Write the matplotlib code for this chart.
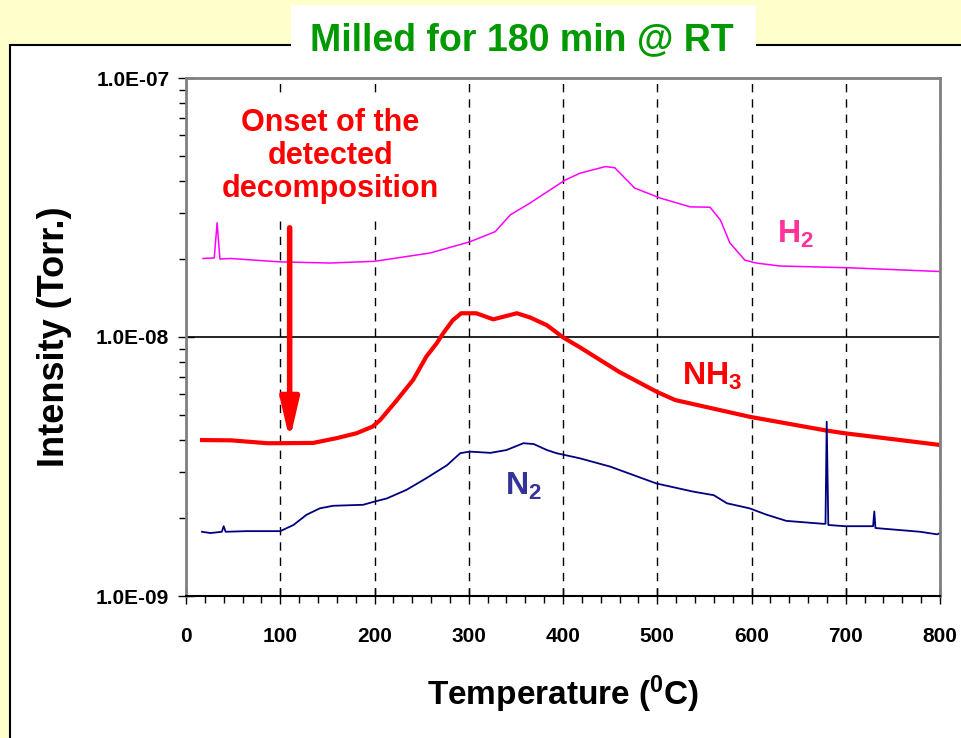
import matplotlib
matplotlib.use("Agg")
import matplotlib.pyplot as plt
from matplotlib.patches import Rectangle
from matplotlib.ticker import MultipleLocator, FuncFormatter, NullFormatter, LogLocator

plt.rcParams['font.family'] = ['Liberation Sans', 'DejaVu Sans']
plt.rcParams['font.weight'] = 'bold'
plt.rcParams['mathtext.fontset'] = 'custom'
plt.rcParams['mathtext.rm'] = 'Liberation Sans:bold'
plt.rcParams['mathtext.bf'] = 'Liberation Sans:bold'
plt.rcParams['mathtext.default'] = 'bf'

# H2 trace (Torr)
h2_temp = [18, 30, 33, 36, 47, 100, 153, 200, 232, 259, 301, 328, 344, 365, 402, 418,
           445, 455, 476, 503, 535, 556, 567, 577, 593, 605, 630, 704, 800]
h2_val = [2.01e-8, 2.02e-8, 2.76e-8, 2.00e-8, 2.01e-8, 1.95e-8, 1.93e-8, 1.96e-8, 2.04e-8,
          2.11e-8, 2.33e-8, 2.55e-8, 2.96e-8, 3.29e-8, 4.03e-8, 4.29e-8, 4.55e-8, 4.50e-8,
          3.76e-8, 3.44e-8, 3.18e-8, 3.17e-8, 2.83e-8, 2.31e-8, 1.98e-8, 1.93e-8, 1.88e-8,
          1.85e-8, 1.79e-8]

# NH3 trace
nh3_temp = [17, 48, 86, 100, 135, 160, 181, 198, 206, 223, 241, 255, 266, 273, 283, 292,
            308, 326, 351, 365, 383, 400, 418, 460, 500, 519, 598, 680, 699, 800]
nh3_val = [4.00e-9, 3.99e-9, 3.89e-9, 3.89e-9, 3.90e-9, 4.07e-9, 4.25e-9, 4.51e-9, 4.78e-9,
           5.66e-9, 6.83e-9, 8.40e-9, 9.46e-9, 1.035e-8, 1.16e-8, 1.235e-8, 1.235e-8, 1.17e-8,
           1.235e-8, 1.19e-8, 1.11e-8, 9.97e-9, 9.12e-9, 7.32e-9, 6.13e-9, 5.71e-9, 4.92e-9,
           4.35e-9, 4.25e-9, 3.83e-9]

# N2 trace
n2_temp = [17, 26, 38, 40, 42, 64, 100, 114, 128, 142, 156, 188, 199, 213, 234, 255, 277,
           291, 301, 323, 340, 358, 369, 383, 393, 418, 450, 499, 538, 560, 574, 598, 616,
           637, 676, 678.5, 679.8, 681.5, 699, 729, 730.3, 731.5, 779, 797, 800]
n2_val = [1.77e-9, 1.75e-9, 1.77e-9, 1.86e-9, 1.77e-9, 1.78e-9, 1.78e-9, 1.88e-9, 2.06e-9,
          2.18e-9, 2.23e-9, 2.25e-9, 2.31e-9, 2.38e-9, 2.57e-9, 2.85e-9, 3.20e-9, 3.56e-9,
          3.61e-9, 3.57e-9, 3.66e-9, 3.89e-9, 3.86e-9, 3.66e-9, 3.56e-9, 3.40e-9, 3.16e-9,
          2.72e-9, 2.53e-9, 2.45e-9, 2.28e-9, 2.18e-9, 2.06e-9, 1.95e-9, 1.90e-9, 1.90e-9,
          4.71e-9, 1.88e-9, 1.86e-9, 1.86e-9, 2.12e-9, 1.83e-9, 1.77e-9, 1.73e-9, 1.75e-9]

# onset arrow (temperature, from / to intensity)
onset_temp = 110
onset_from = 2.64e-8
onset_to = 4.0e-9

fig = plt.figure(figsize=(9.61, 7.38), dpi=100, facecolor='#FFFFCC')

# white panel + title box
fig.add_artist(Rectangle((10 / 961, -0.05), 1.05, 1.05 - 45 / 738, transform=fig.transFigure,
                         fc='white', ec='black', lw=1.5, zorder=0))
fig.add_artist(Rectangle((291 / 961, 1 - 50 / 738), 465 / 961, 45 / 738, transform=fig.transFigure,
                         fc='white', ec='none', zorder=0.5))
fig.text(522 / 961, 1 - 50 / 738, 'Milled for 180 min @ RT', color='#009900', fontsize=27,
         fontweight='bold', ha='center', va='baseline')

ax = fig.add_axes([186 / 961, 1 - 596 / 738, 754 / 961, 518 / 738])
ax.set_yscale('log')

ax.plot(h2_temp, h2_val, color='#FF00FF', lw=1.1)
ax.plot(nh3_temp, nh3_val, color='#FF0000', lw=3)
ax.plot(n2_temp, n2_val, color='#000080', lw=1.3)

ax.set_xlim(0, 800)
ax.set_ylim(1e-9, 1e-7)

ax.xaxis.set_major_locator(MultipleLocator(100))
ax.xaxis.set_minor_locator(MultipleLocator(20))
ax.yaxis.set_major_locator(LogLocator(base=10))
ax.yaxis.set_minor_locator(LogLocator(base=10, subs=range(2, 10)))
ax.yaxis.set_major_formatter(FuncFormatter(lambda v, p: '%.1E' % v))
ax.yaxis.set_minor_formatter(NullFormatter())

ax.tick_params(axis='x', which='major', direction='inout', length=12, width=1, labelsize=15, pad=16)
ax.tick_params(axis='x', which='minor', direction='out', length=5, width=1)
ax.tick_params(axis='y', which='major', direction='inout', length=12, width=1, labelsize=15, pad=6)
ax.tick_params(axis='y', which='minor', direction='out', length=5, width=1)
for lab in ax.get_xticklabels() + ax.get_yticklabels():
    lab.set_fontweight('bold')

ax.set_axisbelow(True)
ax.xaxis.grid(True, which='major', color='black', ls=(0, (6, 5)), lw=1)
ax.yaxis.grid(True, which='major', color='black', ls='-', lw=1.2)

for side in ['left', 'top', 'right']:
    ax.spines[side].set_color('#808080')
    ax.spines[side].set_linewidth(2)
ax.spines['bottom'].set_color('black')
ax.spines['bottom'].set_linewidth(1.5)

ax.set_xlabel('Temperature ($^{0}$C)', fontsize=24, fontweight='bold')
ax.xaxis.set_label_coords(0.5, -0.19)
ax.xaxis.label.set_va('center')
ax.set_ylabel('Intensity (Torr.)', fontsize=26, fontweight='bold')
ax.yaxis.set_label_coords(-0.175, 0.5)
ax.yaxis.label.set_va('center')

# annotation
ax.text(153, 5.0e-8, 'Onset of the\ndetected\ndecomposition', color='#FF0000', fontsize=22,
        fontweight='bold', ha='center', va='center', multialignment='center', linespacing=1.15,
        bbox=dict(fc='white', ec='none', pad=9), zorder=3)
ax.annotate('', xy=(onset_temp, onset_to), xytext=(onset_temp, onset_from),
            arrowprops=dict(arrowstyle='-|>,head_width=0.28,head_length=1.2', color='#FF0000',
                            lw=4, mutation_scale=20, shrinkA=0, shrinkB=0), zorder=4)

ax.text(627, 2.31e-8, 'H$_2$', color='#FF3399', fontsize=23, fontweight='bold', va='baseline')
ax.text(526, 6.53e-9, 'NH$_3$', color='#FF0000', fontsize=23, fontweight='bold', va='baseline')
ax.text(338, 2.45e-9, 'N$_2$', color='#333399', fontsize=23, fontweight='bold', va='baseline')

fig.savefig('out.png', dpi=100, facecolor=fig.get_facecolor())
